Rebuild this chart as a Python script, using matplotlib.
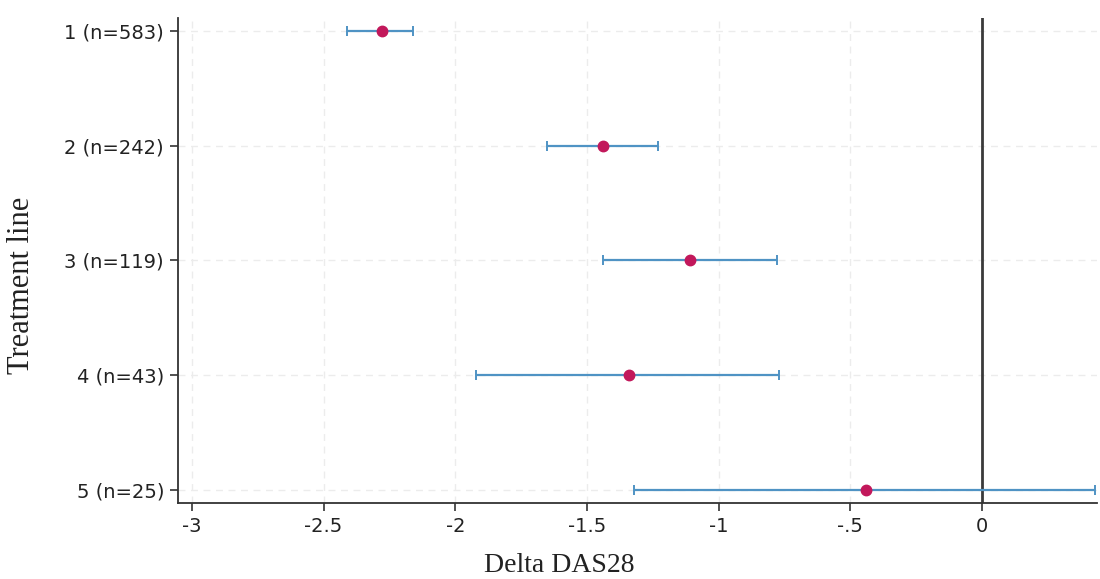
import matplotlib
matplotlib.use("Agg")
import matplotlib.pyplot as plt

categories = ["1 (n=583)", "2 (n=242)", "3 (n=119)", "4 (n=43)", "5 (n=25)"]
estimate = [-2.28, -1.44, -1.11, -1.34, -0.44]
ci_low = [-2.41, -1.65, -1.44, -1.92, -1.32]
ci_high = [-2.16, -1.23, -0.78, -0.77, 0.43]
xticks = [-3, -2.5, -2, -1.5, -1, -0.5, 0]
xticklabels = ["-3", "-2.5", "-2", "-1.5", "-1", "-.5", "0"]

fig = plt.figure(figsize=(11, 5.79), dpi=100)
ax = fig.add_axes([0.1618, 0.1313, 0.9973 - 0.1618, 0.9689 - 0.1313])

ypos = list(range(1, len(categories) + 1))
err_lo = [e - l for e, l in zip(estimate, ci_low)]
err_hi = [h - e for e, h in zip(estimate, ci_high)]

ax.set_xlim(-3.053, 0.437)
ax.set_ylim(5.113, 0.887)

for x in xticks:
    ax.axvline(x, color="#ececec", lw=1.0, ls=(0, (5, 4)), zorder=0)
for y in ypos:
    ax.axhline(y, color="#ececec", lw=1.0, ls=(0, (5, 4)), zorder=0)
ax.axvline(0, color="#3a3a3a", lw=2.0, zorder=1)

ax.errorbar(estimate, ypos, xerr=[err_lo, err_hi], fmt="none",
            ecolor="#4f93c4", elinewidth=1.6, capsize=3.5, capthick=1.4, zorder=2)
ax.plot(estimate, ypos, "o", color="#c2185b", markersize=7.5, zorder=3)

ax.set_yticks(ypos)
ax.set_yticklabels(categories, fontsize=14, family="DejaVu Sans", color="#222222")
ax.set_xticks(xticks)
ax.set_xticklabels(xticklabels, fontsize=14, family="DejaVu Sans", color="#222222")
ax.tick_params(axis="both", direction="out", length=6, width=1.2, color="#333333", pad=4)

for s in ["top", "right"]:
    ax.spines[s].set_visible(False)
for s in ["left", "bottom"]:
    ax.spines[s].set_color("#333333")
    ax.spines[s].set_linewidth(1.3)

fig.text(559 / 1100, 1 - 566 / 579, "Delta DAS28", ha="center", va="center",
         fontsize=20, family="Liberation Serif", color="#222222")
fig.text(22 / 1100, 1 - 285 / 579, "Treatment line", ha="center", va="center",
         rotation=90, fontsize=22, family="Liberation Serif", color="#222222")

fig.savefig("out.png", dpi=100, facecolor="white")
